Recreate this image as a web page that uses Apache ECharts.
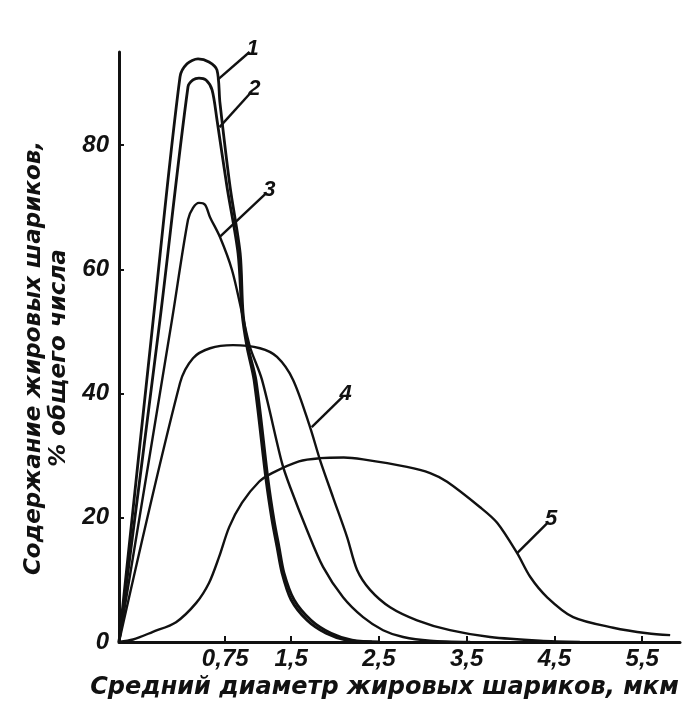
<!DOCTYPE html>
<html>
<head>
<meta charset="utf-8">
<script src="https://cdn.jsdelivr.net/npm/echarts@6/dist/echarts.min.js"></script>
<style>
html,body{margin:0;padding:0;background:#fff;}
#chart{width:692px;height:720px;}
</style>
</head>
<body>
<div id="chart"></div>
<script>
// Curve data: [diameter (axis units), content %]
var curve1 = [[-0.46,0],[-0.07,51.9],[0.235,91.0],[0.315,93.1],[0.44,93.9],[0.565,93.4],[0.656,92.1],[0.69,86.8],[0.805,73.3],[0.92,62.6],[0.953,53.0],[1.01,47.5],[1.10,42.2],[1.238,26.1],[1.306,19.6],[1.363,15.3],[1.42,11.1],[1.534,6.8],[1.728,3.5],[1.956,1.4],[2.195,0.3],[2.51,0]];
var curve2 = [[-0.46,0],[0.007,51.9],[0.326,89.4],[0.383,90.5],[0.451,90.8],[0.531,90.5],[0.6,88.9],[0.656,84.1],[0.77,73.3],[0.896,62.6],[0.941,53.0],[0.998,47.5],[1.078,42.2],[1.215,26.1],[1.283,19.6],[1.34,15.3],[1.397,11.1],[1.5,6.8],[1.682,3.5],[1.899,1.4],[2.127,0.3],[2.42,0]];
var curve3 = [[-0.46,0],[0.144,51.9],[0.326,68.0],[0.383,69.9],[0.451,70.7],[0.52,70.4],[0.577,68.4],[0.69,65.2],[0.827,59.9],[0.941,53.0],[1.032,47.5],[1.169,42.2],[1.397,28.8],[1.488,25.0],[1.682,18.0],[1.864,12.1],[2.092,7.2],[2.32,4.0],[2.548,1.9],[2.776,0.8],[3.084,0.2],[3.54,0]];
var curve4 = [[-0.46,0],[0.235,41.7],[0.383,45.7],[0.577,47.3],[0.839,47.8],[1.146,47.3],[1.34,45.9],[1.523,42.2],[1.716,34.6],[1.83,29.3],[1.978,23.3],[2.138,16.9],[2.252,11.6],[2.4,8.4],[2.628,5.6],[2.935,3.5],[3.31,1.9],[3.767,0.8],[4.337,0.2],[4.79,0]];
var curve5 = [[-0.46,0],[-0.3,0.4],[-0.08,1.6],[0.19,3.2],[0.42,6.3],[0.565,9.5],[0.68,13.7],[0.795,18.5],[0.94,22.4],[1.135,25.8],[1.283,27.2],[1.59,29.1],[1.83,29.6],[2.1,29.7],[2.32,29.4],[2.82,28.2],[3.084,27.2],[3.277,25.8],[3.653,21.7],[3.847,19.2],[4.075,14.3],[4.223,10.5],[4.417,7.2],[4.713,4.0],[5.169,2.3],[5.556,1.4],[5.818,1.1]];
var curveNames = ['1','2','3','4','5'];
// leader line for each curve label: [from point on curve, to label]
var leaders = [
  [[0.662,90.5],[1.027,95.0]],
  [[0.685,82.9],[1.05,88.6]],
  [[0.685,65.2],[1.22,72.3]],
  [[1.735,34.6],[2.09,39.5]],
  [[4.075,14.3],[4.43,19.3]]
];
var xTicks = [0.75,1.5,2.5,3.5,4.5,5.5];
var yTicks = [0,20,40,60,80];
var xTitle = 'Средний диаметр жировых шариков, мкм';
var yTitle = 'Содержание жировых шариков,\n% общего числа';

var curves = [curve1, curve2, curve3, curve4, curve5];
var widths = [2.8, 2.8, 2.4, 2.4, 2.4];
var ink = '#111';
var tickFont = {color: ink, fontFamily: 'Liberation Sans', fontStyle: 'italic', fontWeight: 'bold', fontSize: 24};

var series = curves.map(function (d, i) {
  return {
    type: 'line',
    name: curveNames[i],
    data: d,
    smooth: 0.3,
    symbol: 'none',
    clip: false,
    lineStyle: {color: ink, width: widths[i]},
    markLine: {
      silent: true,
      symbol: 'none',
      animation: false,
      lineStyle: {color: ink, width: 2.4, type: 'solid'},
      label: {show: true, position: 'end', formatter: curveNames[i], distance: 4,
        color: ink, fontFamily: 'Liberation Sans', fontStyle: 'italic', fontWeight: 'bold', fontSize: 22},
      data: [[{coord: leaders[i][0]}, {coord: leaders[i][1]}]]
    }
  };
});

var chart = echarts.init(document.getElementById('chart'), null, {renderer: 'canvas'});
chart.setOption({
  animation: false,
  backgroundColor: '#fff',
  grid: {left: 119, top: 52, right: 12, bottom: 78, containLabel: false},
  xAxis: {
    type: 'value', min: -0.46, max: 5.93,
    name: xTitle, nameLocation: 'middle', nameGap: 34,
    nameTextStyle: {color: ink, fontFamily: 'DejaVu Sans', fontStyle: 'italic', fontWeight: 'bold', fontSize: 24, padding: [0, 30, 0, 0]},
    axisLine: {onZero: false, lineStyle: {color: ink, width: 3}},
    axisTick: {inside: true, length: 6, customValues: xTicks, lineStyle: {color: ink, width: 2}},
    axisLabel: Object.assign({customValues: xTicks, margin: 5, formatter: function (v) { return String(v).replace('.', ','); }}, tickFont),
    splitLine: {show: false}
  },
  yAxis: {
    type: 'value', min: 0, max: 95,
    name: yTitle, nameLocation: 'middle', nameGap: 37, nameRotate: 90,
    nameTextStyle: {color: ink, fontFamily: 'DejaVu Sans', fontStyle: 'italic', fontWeight: 'bold', fontSize: 23, lineHeight: 25, padding: [0, 22, 0, 0]},
    axisLine: {onZero: false, lineStyle: {color: ink, width: 3}},
    axisTick: {inside: true, length: 5, customValues: yTicks, lineStyle: {color: ink, width: 2}},
    axisLabel: Object.assign({customValues: yTicks, margin: 10}, tickFont),
    splitLine: {show: false}
  },
  series: series
});
</script>
</body>
</html>
